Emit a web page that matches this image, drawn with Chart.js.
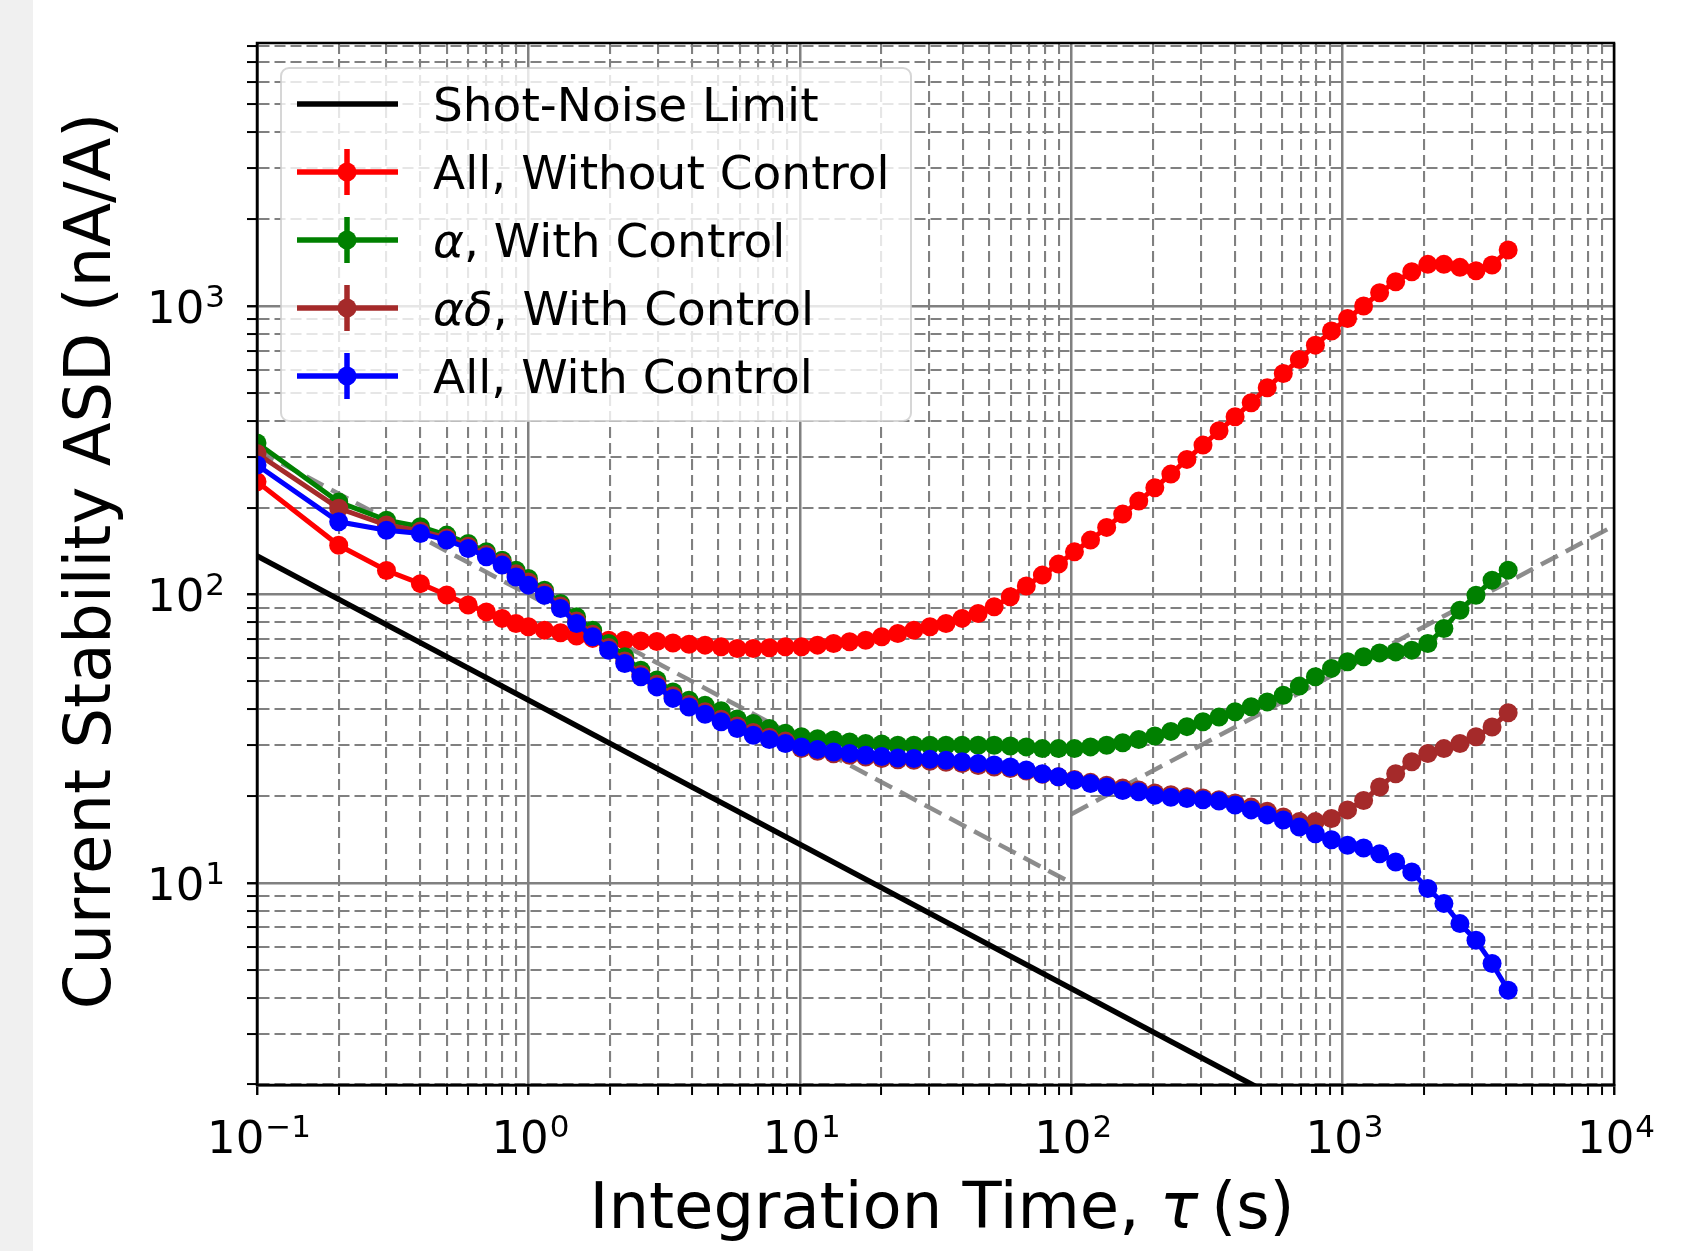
<!DOCTYPE html>
<html>
<head>
<meta charset="utf-8">
<script src="https://cdn.jsdelivr.net/npm/chart.js@4.4.1/dist/chart.umd.min.js"></script>
<style>
    html, body { margin: 0; padding: 0; background: #fff; }
    #faixa { position: absolute; left: 0; top: 0; width: 33px; height: 1251px; background: #f0f0f0; }
    #grafico { position: absolute; left: 0; top: 0; }
</style>
</head>
<body>
<div id="faixa"></div>
<canvas id="grafico" width="1682" height="1251"></canvas>
<script>
// tempos de integracao (s)
const tau = [0.1, 0.2, 0.3, 0.4, 0.5, 0.6, 0.7, 0.8, 0.9, 1.0,
    1.146, 1.313, 1.505, 1.725, 1.976, 2.265, 2.596, 2.975, 3.409, 3.906,
    4.477, 5.13, 5.88, 6.738, 7.722, 8.849, 10.14, 11.62, 13.32, 15.26,
    17.49, 20.04, 22.97, 26.32, 30.17, 34.57, 39.62, 45.4, 52.03, 59.63,
    68.33, 78.31, 89.74, 102.8, 117.8, 135.1, 154.8, 177.4, 203.3, 232.9,
    266.9, 305.9, 350.5, 401.7, 460.4, 527.6, 604.6, 692.8, 793.9, 910,
    1043, 1195, 1369, 1569, 1798, 2061, 2362, 2706, 3101, 3554, 4074];

// All, Without Control
const semControle = [246, 148, 121, 109, 99.5, 91.9, 87, 82.6, 79.3, 77.2,
    75.2, 73.6, 71.7, 70.4, 69.4, 69.4, 69.0, 68.7, 67.9, 67.2,
    66.7, 65.8, 64.9, 64.9, 65.3, 65.8, 65.8, 66.7, 67.6, 68.5,
    69.4, 71.3, 73.2, 75.2, 77.2, 79.3, 82.6, 85.9, 90.6, 98.1,
    107, 116.7, 127.4, 140.5, 154.3, 170.8, 189.9, 210.7, 234.3, 261.4,
    294, 329.5, 369.4, 413, 462, 521, 584, 653, 732, 819,
    906, 1000, 1112, 1214, 1315, 1395, 1395, 1362, 1326, 1387, 1564];

// alpha, With Control
const alfaControle = [335, 209, 181, 171.7, 160.6, 150.3, 140.6, 131.5, 121.4, 113.6,
    103.5, 93, 83.6, 75.2, 67.6, 60.8, 54.6, 50.5, 45.9, 43,
    41.3, 39.5, 37, 35.7, 34.3, 33, 32.1, 31.6, 31.3, 30.8,
    30.4, 30.3, 30, 30, 30, 30, 30, 30, 30, 29.8,
    29.6, 29.2, 29.2, 29.2, 29.6, 30, 30.6, 31.4, 32.3, 33.5,
    34.8, 36.2, 37.6, 39.2, 40.8, 42.4, 44.7, 48.1, 51.8, 55.4,
    58.4, 60.8, 62.7, 63.2, 64.1, 67.6, 76.2, 88.2, 99.4, 112, 121.4];

// alpha delta, With Control
const alfaDeltaControle = [308, 199, 174, 166, 157, 147, 137.5, 129, 118, 110.5,
    101.4, 91.2, 80.9, 72.7, 65.4, 58.8, 52.8, 48.8, 44.5, 41.5,
    39.2, 36.9, 35, 33.2, 32, 31, 29.2, 28.6, 28.0, 27.7,
    27.3, 27.0, 26.7, 26.6, 26.4, 26.2, 25.9, 25.5, 25.2, 24.9,
    24.4, 23.8, 23.3, 22.8, 22.3, 21.8, 21.3, 21.0, 20.5, 20.2,
    19.9, 19.7, 19.4, 18.9, 18.3, 17.7, 16.9, 16.3, 16.3, 16.7,
    17.9, 19.3, 21.5, 23.9, 26.3, 28.1, 29.2, 30.4, 32.1, 34.7, 38.9];

// All, With Control
const todosControle = [281, 178.6, 167, 162.7, 154.3, 144.4, 135, 126.4, 115, 107.7,
    99.4, 89.4, 79.3, 71.3, 64.1, 57.6, 51.8, 47.8, 43.6, 40.7,
    38.4, 36.2, 34.3, 32.5, 31.4, 30.4, 29.6, 29, 28.4, 28.1,
    27.7, 27.4, 27.1, 27, 26.8, 26.6, 26.3, 25.9, 25.6, 25.2,
    24.6, 23.9, 23.3, 22.7, 22.1, 21.5, 20.9, 20.7, 20.1, 19.8,
    19.6, 19.4, 19.2, 18.6, 17.9, 17.2, 16.5, 15.6, 14.8, 14.1,
    13.5, 13.2, 12.6, 11.8, 10.9, 9.55, 8.47, 7.22, 6.32, 5.25, 4.24];

// limite de ruido de disparo e retas de referencia
const shotTau = [0.1, 1000];
const shotValor = [136, 1.36];
const ref1Tau = [0.1, 100];
const ref1Valor = [316, 10];
const ref2Tau = [100, 10000];
const ref2Valor = [17.3, 173];

// eixos: decadas e expoentes dos rotulos (10^n)
const xDecadas = [0.1, 1, 10, 100, 1000, 10000];
const xExpoentes = ['\u22121', '0', '1', '2', '3', '4'];
const yDecadas = [10, 100, 1000];
const yExpoentes = ['1', '2', '3'];
const menores = [1, 2, 3, 4, 5, 6, 7, 8, 9];
const yMin = 1.99, yMax = 8170;

const FONTE = '"DejaVu Sans", sans-serif';
const CINZA = 'rgb(128,128,128)';

function ehDecada(v) {
    const l = Math.log10(v);
    return Math.abs(l - Math.round(l)) < 1e-6;
}

function pontos(xs, ys) {
    return xs.map((x, i) => ({ x: x, y: ys[i] }));
}

function ticksLog(decadas, min, max) {
    let lista = [];
    decadas.forEach(d => menores.forEach(m => {
        const v = m * d;
        if (v >= min * 0.9999 && v <= max * 1.0001) lista.push(v);
    }));
    return lista;
}

const xTicks = ticksLog([0.1, 1, 10, 100, 1000, 10000], 0.1, 10000);
const yTicks = ticksLog([1, 10, 100, 1000], yMin, yMax);

const gradeEixo = {
    color: CINZA,
    lineWidth: c => (c.tick && ehDecada(c.tick.value)) ? 2.5 : 2.1,
    drawTicks: true,
    tickLength: 10,
    tickColor: 'black',
    tickWidth: c => (c.tick && ehDecada(c.tick.value)) ? 2.4 : 2
};
const bordaEixo = {
    display: true,
    color: 'black',
    width: 2.5,
    dash: c => (c.type === 'tick' && c.tick && !ehDecada(c.tick.value)) ? [11, 5] : []
};

// legenda desenhada a mao, no estilo errorbar
const legenda = [
    { partes: [['Shot-Noise Limit', false]], cor: 'black', erro: false },
    { partes: [['All, Without Control', false]], cor: '#ff0000', erro: true },
    { partes: [['\u03B1', true], [', With Control', false]], cor: '#008000', erro: true },
    { partes: [['\u03B1\u03B4', true], [', With Control', false]], cor: '#a52a2a', erro: true },
    { partes: [['All, With Control', false]], cor: '#0000ff', erro: true }
];

function textoMisto(ctx, partes, x, y, tamanho, alinhar) {
    let largura = 0;
    partes.forEach(p => {
        ctx.font = (p[1] ? 'italic ' : '') + tamanho + 'px ' + FONTE;
        largura += ctx.measureText(p[0]).width;
    });
    let cx = alinhar === 'center' ? x - largura / 2 : x;
    ctx.textAlign = 'left';
    partes.forEach(p => {
        ctx.font = (p[1] ? 'italic ' : '') + tamanho + 'px ' + FONTE;
        ctx.fillText(p[0], cx, y);
        cx += ctx.measureText(p[0]).width;
    });
}

// rotulo 10^n: devolve a largura total
function potencia(ctx, exp, x, y, desenhar) {
    ctx.font = '45px ' + FONTE;
    const wb = ctx.measureText('10').width;
    ctx.font = '31px ' + FONTE;
    const we = ctx.measureText(exp).width;
    if (desenhar) {
        ctx.textAlign = 'left';
        ctx.font = '45px ' + FONTE;
        ctx.fillText('10', x, y);
        ctx.font = '31px ' + FONTE;
        ctx.fillText(exp, x + wb + 1, y - 16);
    }
    return wb + we + 1;
}

const decoracao = {
    id: 'decoracao',
    afterDraw(chart) {
        const ctx = chart.ctx;
        const a = chart.chartArea;
        ctx.save();
        // moldura completa
        ctx.strokeStyle = 'black';
        ctx.lineWidth = 2.5;
        ctx.strokeRect(a.left, a.top, a.right - a.left, a.bottom - a.top);

        // rotulos dos ticks
        ctx.fillStyle = 'black';
        ctx.textBaseline = 'alphabetic';
        const sx = chart.scales.x, sy = chart.scales.y;
        xDecadas.forEach((d, i) => {
            const px = sx.getPixelForValue(d);
            const w = potencia(ctx, xExpoentes[i], 0, 0, false);
            potencia(ctx, xExpoentes[i], px - w / 2 + 2, 1153, true);
        });
        yDecadas.forEach((d, i) => {
            const py = sy.getPixelForValue(d);
            const w = potencia(ctx, yExpoentes[i], 0, 0, false);
            potencia(ctx, yExpoentes[i], 225 - w, py + 17, true);
        });

        // caixa da legenda
        const lx = 281, ly = 68, lw = 630, lh = 353, r = 8;
        ctx.beginPath();
        ctx.moveTo(lx + r, ly);
        ctx.arcTo(lx + lw, ly, lx + lw, ly + lh, r);
        ctx.arcTo(lx + lw, ly + lh, lx, ly + lh, r);
        ctx.arcTo(lx, ly + lh, lx, ly, r);
        ctx.arcTo(lx, ly, lx + lw, ly, r);
        ctx.closePath();
        ctx.fillStyle = 'rgba(255,255,255,0.8)';
        ctx.fill();
        ctx.strokeStyle = 'rgba(204,204,204,0.8)';
        ctx.lineWidth = 2;
        ctx.stroke();

        legenda.forEach((item, i) => {
            const yc = 104 + i * 68;
            ctx.strokeStyle = item.cor;
            ctx.lineWidth = 5.5;
            ctx.beginPath();
            ctx.moveTo(297, yc);
            ctx.lineTo(398, yc);
            ctx.stroke();
            if (item.erro) {
                ctx.beginPath();
                ctx.moveTo(347, yc - 23);
                ctx.lineTo(347, yc + 23);
                ctx.stroke();
                ctx.fillStyle = item.cor;
                ctx.beginPath();
                ctx.arc(347, yc, 9.5, 0, Math.PI * 2);
                ctx.fill();
            }
            ctx.fillStyle = 'black';
            textoMisto(ctx, item.partes, 433, yc + 17, 47, 'left');
        });

        // titulos dos eixos
        ctx.fillStyle = 'black';
        textoMisto(ctx, [['Integration Time, ', false], ['\u03C4', true], ['\u2009(s)', false]], 942, 1228, 64, 'center');
        ctx.translate(110, 561);
        ctx.rotate(-Math.PI / 2);
        ctx.font = '64px ' + FONTE;
        ctx.textAlign = 'center';
        ctx.fillText('Current Stability ASD (nA/A)', 0, 0);
        ctx.restore();
    }
};

function serie(rotulo, dados, cor, ordem) {
    return {
        label: rotulo,
        data: pontos(tau, dados),
        borderColor: cor,
        backgroundColor: cor,
        borderWidth: 5,
        pointRadius: 9.5,
        pointBorderWidth: 0,
        pointBackgroundColor: cor,
        order: ordem
    };
}

const ctx = document.getElementById('grafico').getContext('2d');
window.chart = new Chart(ctx, {
    type: 'line',
    data: {
        datasets: [
            serie('All, With Control', todosControle, '#0000ff', 1),
            serie('\u03B1\u03B4, With Control', alfaDeltaControle, '#a52a2a', 2),
            serie('\u03B1, With Control', alfaControle, '#008000', 3),
            serie('All, Without Control', semControle, '#ff0000', 4),
            {
                label: 'Shot-Noise Limit',
                data: pontos(shotTau, shotValor),
                borderColor: 'black',
                borderWidth: 5.5,
                pointRadius: 0,
                order: 5
            },
            {
                label: 'ref1',
                data: pontos(ref1Tau, ref1Valor),
                borderColor: 'rgba(128,128,128,0.9)',
                borderWidth: 4.5,
                borderDash: [19, 9],
                pointRadius: 0,
                order: 6
            },
            {
                label: 'ref2',
                data: pontos(ref2Tau, ref2Valor),
                borderColor: 'rgba(128,128,128,0.9)',
                borderWidth: 4.5,
                borderDash: [19, 9],
                pointRadius: 0,
                order: 7
            }
        ]
    },
    options: {
        responsive: false,
        animation: false,
        devicePixelRatio: 1,
        layout: { padding: { left: 0, top: 43, right: 68, bottom: 0 } },
        plugins: {
            legend: { display: false },
            tooltip: { enabled: false }
        },
        scales: {
            x: {
                type: 'logarithmic',
                min: 0.1,
                max: 10000,
                afterBuildTicks: s => { s.ticks = xTicks.map(v => ({ value: v, major: ehDecada(v) })); },
                afterFit: s => { s.height = 166; },
                ticks: { autoSkip: false, maxRotation: 0, callback: () => '' },
                grid: gradeEixo,
                border: bordaEixo
            },
            y: {
                type: 'logarithmic',
                min: yMin,
                max: yMax,
                afterBuildTicks: s => { s.ticks = yTicks.map(v => ({ value: v, major: ehDecada(v) })); },
                afterFit: s => { s.width = 257; },
                ticks: { autoSkip: false, callback: () => '' },
                grid: gradeEixo,
                border: bordaEixo
            }
        }
    },
    plugins: [decoracao]
});
</script>
</body>
</html>
